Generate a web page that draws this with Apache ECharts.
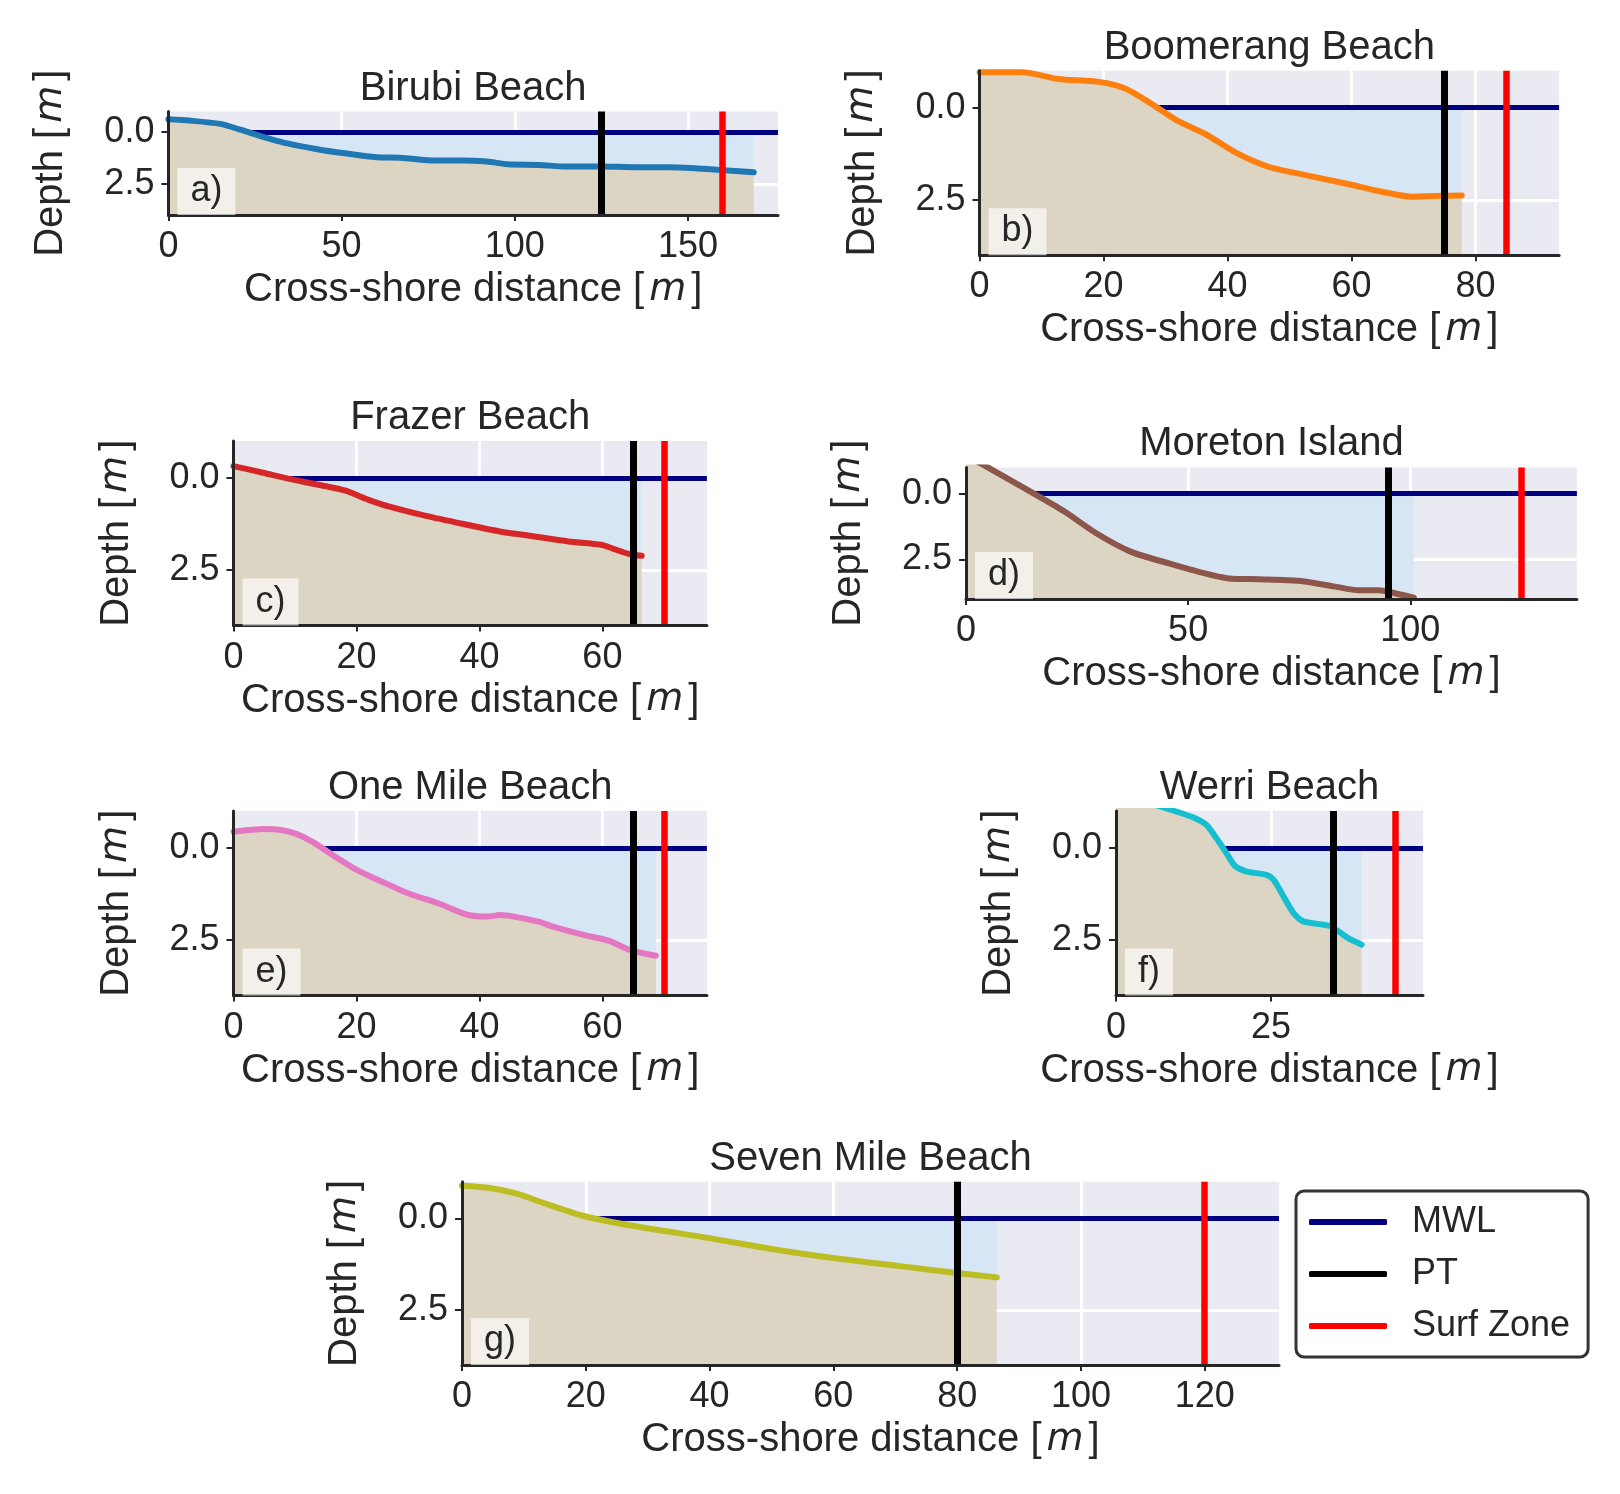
<!DOCTYPE html>
<html>
<head>
<meta charset="utf-8">
<script src="https://cdn.jsdelivr.net/npm/echarts@6/dist/echarts.min.js"></script>
<style>
  html, body { margin: 0; padding: 0; background: #ffffff; }
  #chart { width: 1620px; height: 1494px; }
</style>
</head>
<body>
<div id="chart"></div>
<script>
// ---- data ----
const beachNames = ['Birubi Beach', 'Boomerang Beach', 'Frazer Beach', 'Moreton Island',
                    'One Mile Beach', 'Werri Beach', 'Seven Mile Beach'];
const panelLetters = ['a)', 'b)', 'c)', 'd)', 'e)', 'f)', 'g)'];

const birubiX     = [0, 6, 15, 21, 25.5, 34, 43, 51, 60, 67, 77, 85, 92, 98, 107, 115, 125, 135, 144, 152, 159, 169];
const birubiDepth = [-0.62, -0.56, -0.40, -0.11, 0.13, 0.53, 0.82, 1.02, 1.21, 1.23, 1.37, 1.37, 1.42, 1.55, 1.58, 1.66, 1.66, 1.69, 1.69, 1.74, 1.82, 1.94];

const boomerangX     = [0, 7, 12.7, 19.3, 23.5, 27.6, 31.7, 36.7, 41.6, 46.6, 52.4, 59.8, 64.7, 69.7, 73, 77.8];
const boomerangDepth = [-0.96, -0.96, -0.78, -0.70, -0.52, -0.12, 0.33, 0.74, 1.24, 1.60, 1.82, 2.08, 2.27, 2.41, 2.39, 2.38];

const frazerX     = [0, 4.8, 9.5, 14.8, 18.1, 22.1, 25.4, 31.3, 38, 43.3, 47.9, 54.5, 59.8, 61.8, 64.4, 66.4];
const frazerDepth = [-0.32, -0.14, 0.04, 0.22, 0.34, 0.60, 0.78, 1.03, 1.27, 1.45, 1.56, 1.72, 1.81, 1.92, 2.06, 2.11];

const moretonX     = [0, 4.6, 15.3, 22, 29.4, 37.2, 45.7, 52.4, 59.2, 65.9, 74.9, 82.8, 88.4, 92.9, 96.3, 100.8];
const moretonDepth = [-1.45, -1.03, 0.0, 0.66, 1.51, 2.21, 2.65, 2.97, 3.22, 3.25, 3.31, 3.52, 3.67, 3.67, 3.77, 3.95];

const oneMileX     = [0, 4.9, 7.5, 10.2, 12.8, 16.1, 20.1, 24.1, 28.7, 33.3, 38, 41.3, 43.3, 49.9, 51.9, 57.1, 61.1, 64.4, 68.7];
const oneMileDepth = [-0.44, -0.51, -0.49, -0.38, -0.17, 0.19, 0.60, 0.91, 1.25, 1.50, 1.81, 1.86, 1.82, 2.01, 2.13, 2.36, 2.52, 2.76, 2.92];

const werriX     = [0, 9.45, 12.4, 14.6, 16.2, 17.8, 19.2, 21.1, 24.3, 25.4, 27, 28.6, 30.2, 33.5, 34.6, 36.2, 37.8, 39.6];
const werriDepth = [-1.5, -1.0, -0.83, -0.62, -0.26, 0.14, 0.49, 0.64, 0.73, 0.86, 1.31, 1.76, 1.99, 2.08, 2.12, 2.30, 2.48, 2.62];

const sevenMileX     = [0, 4.5, 8.7, 14.2, 20, 27.8, 40, 49.5, 60.3, 71.1, 80, 86.4];
const sevenMileDepth = [-0.89, -0.83, -0.68, -0.36, -0.05, 0.21, 0.54, 0.82, 1.09, 1.31, 1.49, 1.61];

const profileX = [birubiX, boomerangX, frazerX, moretonX, oneMileX, werriX, sevenMileX];
const profileDepth = [birubiDepth, boomerangDepth, frazerDepth, moretonDepth, oneMileDepth, werriDepth, sevenMileDepth];

const ptX = [125, 75, 65, 95, 65, 35, 80];
const surfZoneX = [160, 85, 70, 125, 70, 45, 120];
const mwlDepth = 0;

const xMax = [176, 93.5, 77, 137.5, 77, 49.5, 132];
const xTicks = [[0, 50, 100, 150], [0, 20, 40, 60, 80], [0, 20, 40, 60], [0, 50, 100],
                [0, 20, 40, 60], [0, 25], [0, 20, 40, 60, 80, 100, 120]];
const yTicks = [0, 2.5];
const depthRange = [-1, 4];

// ---- styling / layout ----
const profileColors = ['#1f77b4', '#ff7f0e', '#d62728', '#8c564b', '#e377c2', '#17becf', '#bcbd22'];
const SAND = '#ddd5c4';
const WATER = '#d6e6f5';
const TEXT = '#262626';
const FONT = '"Liberation Sans", Arial, sans-serif';

// [left, top, width, height] of each plot area
const boxes = [
  [168.4, 111.5, 609.6, 103.5],
  [979.5, 70.8, 579.6, 184.5],
  [233.5, 441, 473.4, 184.6],
  [966, 467.4, 610.9, 131.6],
  [233.5, 811, 473.4, 184.6],
  [1116, 811, 307, 184.6],
  [462, 1181.7, 817, 183.3]
];

const chart = echarts.init(document.getElementById('chart'));

const nameRich = {
  m: { fontStyle: 'italic', fontFamily: '"DejaVu Sans"', fontSize: 38, color: TEXT, padding: [0, 5, 0, 5] }
};

const grids = [], xAxes = [], yAxes = [], series = [], graphics = [];

boxes.forEach(function (b, i) {
  const [left, top, width, height] = b;
  grids.push({ left: left, top: top, width: width, height: height, show: true,
               backgroundColor: '#eaeaf2', borderWidth: 0, outerBoundsMode: 'none' });

  // main axes (spines, ticks, labels)
  xAxes.push({
    gridIndex: i, type: 'value', position: 'bottom', min: 0, max: xMax[i], z: 10,
    axisLine: { show: true, onZero: false, lineStyle: { color: TEXT, width: 3 } },
    axisTick: { show: true, customValues: xTicks[i], length: 6, lineStyle: { color: TEXT, width: 2 } },
    axisLabel: { customValues: xTicks[i], color: TEXT, fontSize: 36, fontFamily: FONT, margin: 14 },
    splitLine: { show: false },
    name: 'Cross-shore distance [{m|m}]', nameLocation: 'middle', nameGap: 55,
    nameTextStyle: { color: TEXT, fontSize: 40, fontFamily: FONT, rich: nameRich }
  });
  // background axes (white grid lines only)
  xAxes.push({
    gridIndex: i, type: 'value', position: 'top', min: 0, max: xMax[i], z: 0,
    axisLine: { show: false }, axisTick: { show: false, customValues: xTicks[i] },
    axisLabel: { show: false, customValues: xTicks[i] },
    splitLine: { show: true, lineStyle: { color: '#ffffff', width: 3 } }
  });

  yAxes.push({
    gridIndex: i, type: 'value', position: 'left', inverse: true,
    min: depthRange[0], max: depthRange[1], z: 10,
    axisLine: { show: true, onZero: false, lineStyle: { color: TEXT, width: 3 } },
    axisTick: { show: true, customValues: yTicks, length: 7, lineStyle: { color: TEXT, width: 2 } },
    axisLabel: { customValues: yTicks, color: TEXT, fontSize: 36, fontFamily: FONT, margin: 14,
                 formatter: function (v) { return v.toFixed(1); } },
    splitLine: { show: false },
    name: 'Depth [{m|m}]', nameLocation: 'middle', nameGap: 97, nameRotate: 90,
    nameTextStyle: { color: TEXT, fontSize: 40, fontFamily: FONT, rich: nameRich }
  });
  yAxes.push({
    gridIndex: i, type: 'value', position: 'right', inverse: true,
    min: depthRange[0], max: depthRange[1], z: 0,
    axisLine: { show: false }, axisTick: { show: false, customValues: yTicks },
    axisLabel: { show: false, customValues: yTicks },
    splitLine: { show: true, lineStyle: { color: '#ffffff', width: 3 } }
  });

  const pts = profileX[i].map(function (x, k) { return [x, profileDepth[i][k]]; });
  const ax = { xAxisIndex: 2 * i, yAxisIndex: 2 * i };

  // water between the mean water level and the bed
  series.push(Object.assign({
    type: 'line', data: pts, smooth: 0.25, showSymbol: false, silent: true, z: 1,
    lineStyle: { width: 0 }, areaStyle: { color: WATER, opacity: 1, origin: mwlDepth }
  }, ax));
  // MWL
  series.push(Object.assign({
    type: 'line', name: 'MWL', data: [], color: '#000080', z: 2,
    itemStyle: { color: '#000080' }, lineStyle: { color: '#000080' },
    markLine: { z: 2, silent: true, symbol: ['none', 'none'], label: { show: false },
                lineStyle: { color: '#000080', width: 5, type: 'solid' },
                data: [{ yAxis: mwlDepth }] }
  }, ax));
  // sand + bed profile
  series.push(Object.assign({
    type: 'line', data: pts, smooth: 0.25, showSymbol: false, silent: true, z: 3,
    lineStyle: { color: profileColors[i], width: 6, cap: 'round' },
    areaStyle: { color: SAND, opacity: 1, origin: depthRange[1] }
  }, ax));
  // pressure transducer
  series.push(Object.assign({
    type: 'line', name: 'PT', data: [], color: '#000000', z: 5,
    itemStyle: { color: '#000000' }, lineStyle: { color: '#000000' },
    markLine: { z: 5, silent: true, symbol: ['none', 'none'], label: { show: false },
                lineStyle: { color: '#000000', width: 7, type: 'solid' },
                data: [{ xAxis: ptX[i] }] }
  }, ax));
  // surf zone
  series.push(Object.assign({
    type: 'line', name: 'Surf Zone', data: [], color: '#ff0000', z: 6,
    itemStyle: { color: '#ff0000' }, lineStyle: { color: '#ff0000' },
    markLine: { z: 6, silent: true, symbol: ['none', 'none'], label: { show: false },
                lineStyle: { color: '#ff0000', width: 6.5, type: 'solid' },
                data: [{ xAxis: surfZoneX[i] }] }
  }, ax));

  graphics.push({
    type: 'text', x: left + width / 2, y: top - 23, z: 20, silent: true,
    style: { text: beachNames[i], fill: TEXT, fontSize: 40, fontFamily: FONT,
             align: 'center', verticalAlign: 'middle' }
  });
  graphics.push({
    type: 'text', x: left + 9, y: top + height, z: 20, silent: true,
    style: { text: panelLetters[i], fill: TEXT, fontSize: 36, fontFamily: FONT,
             align: 'left', verticalAlign: 'bottom', lineHeight: 36,
             backgroundColor: 'rgba(255,255,255,0.65)', padding: [5, 13, 6, 13] }
  });
});

chart.setOption({
  animation: false,
  backgroundColor: '#ffffff',
  grid: grids,
  xAxis: xAxes,
  yAxis: yAxes,
  series: series,
  graphic: { elements: graphics },
  legend: {
    data: ['MWL', 'PT', 'Surf Zone'],
    orient: 'vertical', left: 1296, top: 1191,
    icon: 'roundRect', itemWidth: 78, itemHeight: 6, itemGap: 14,
    padding: [12, 18, 12, 13],
    borderColor: '#333333', borderWidth: 3, borderRadius: 8, backgroundColor: '#ffffff',
    textStyle: { color: TEXT, fontSize: 36, fontFamily: FONT, lineHeight: 38, padding: [0, 0, 0, 20] },
    selectedMode: false
  }
});
</script>
</body>
</html>
